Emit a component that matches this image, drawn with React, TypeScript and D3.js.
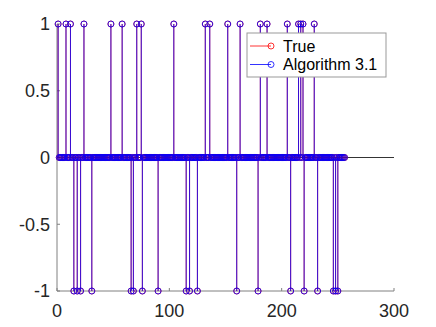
import React from 'react';
import * as d3 from 'd3';

// signal length and nonzero positions
const N = 256;
const plusOnes = [1, 8, 12, 24, 48, 58, 71, 75, 104, 132, 136, 152, 163, 181, 187, 205, 215, 217, 219, 229];
const minusOnes = [15, 18, 21, 31, 66, 68, 76, 90, 115, 118, 125, 160, 179, 208, 220, 232, 246, 248, 250];
const xTicks = [0, 100, 200, 300];
const yTicks = [-1, -0.5, 0, 0.5, 1];
const seriesNames = ['True', 'Algorithm 3.1'];

function buildSignal() {
  const s: {i: number; v: number}[] = [];
  for (let i = 1; i <= N; i++) {
    let v = 0;
    if (plusOnes.includes(i)) v = 1;
    if (minusOnes.includes(i)) v = -1;
    s.push({i, v});
  }
  return s;
}
const trueSignal = buildSignal();
const algSignal = buildSignal();

export default function App() {
  const W = 436, H = 327;
  const m = {left: 57, right: 42, top: 24, bottom: 36};
  const x = d3.scaleLinear().domain([0, 300]).range([m.left, W - m.right]);
  const y = d3.scaleLinear().domain([-1, 1]).range([H - m.bottom, m.top]);
  const font = '"Liberation Sans", Arial, sans-serif';
  const axisCol = '#808080';
  const txtCol = '#262626';

  const stems = (data: {i: number; v: number}[], col: string) => (
    <g>
      {data.filter(d => d.v !== 0).map(d => (
        <line key={'l' + d.i} x1={x(d.i)} x2={x(d.i)} y1={y(0)} y2={y(d.v)} stroke={col} strokeWidth={0.8} />
      ))}
      {data.map(d => (
        <circle key={'c' + d.i} cx={x(d.i)} cy={y(d.v)} r={3} fill="none" stroke={col} strokeWidth={0.8} />
      ))}
    </g>
  );

  return (
    <svg width={W} height={H} style={{position: 'absolute', left: 0, top: 0, background: '#fff'}}>
      {/* axes */}
      <line x1={m.left} x2={m.left} y1={y(1)} y2={y(-1)} stroke={axisCol} />
      <line x1={m.left} x2={x(300)} y1={y(-1)} y2={y(-1)} stroke={axisCol} />
      {yTicks.map(t => (
        <g key={'yt' + t}>
          <line x1={m.left} x2={m.left + 3} y1={y(t)} y2={y(t)} stroke={axisCol} />
          <text x={m.left - 7} y={y(t)} dy="0.36em" textAnchor="end" fontSize={18} fontFamily={font} fill={txtCol}>{t}</text>
        </g>
      ))}
      {xTicks.map(t => (
        <g key={'xt' + t}>
          <line x1={x(t)} x2={x(t)} y1={y(-1)} y2={y(-1) - 3} stroke={axisCol} />
          <text x={x(t)} y={y(-1) + 26} textAnchor="middle" fontSize={18} fontFamily={font} fill={txtCol}>{t}</text>
        </g>
      ))}
      {/* stem baseline */}
      <line x1={x(0)} x2={x(300)} y1={y(0)} y2={y(0)} stroke="#000" strokeWidth={0.8} />
      {stems(trueSignal, '#ff0000')}
      {stems(algSignal, '#0000ff')}
      {/* legend */}
      <g transform="translate(247,33)">
        <rect x={0} y={0} width={139} height={44} fill="#fff" stroke="#999" strokeWidth={1} />
        {seriesNames.map((n, k) => {
          const col = k === 0 ? '#ff0000' : '#0000ff';
          const cy = 13 + k * 18.5;
          return (
            <g key={n}>
              <line x1={3} x2={24} y1={cy} y2={cy} stroke={col} strokeWidth={0.8} />
              <circle cx={24} cy={cy} r={3} fill="none" stroke={col} strokeWidth={0.8} />
              <text x={36} y={cy} dy="0.36em" fontSize={16} fontFamily={font} fill="#000">{n}</text>
            </g>
          );
        })}
      </g>
    </svg>
  );
}
